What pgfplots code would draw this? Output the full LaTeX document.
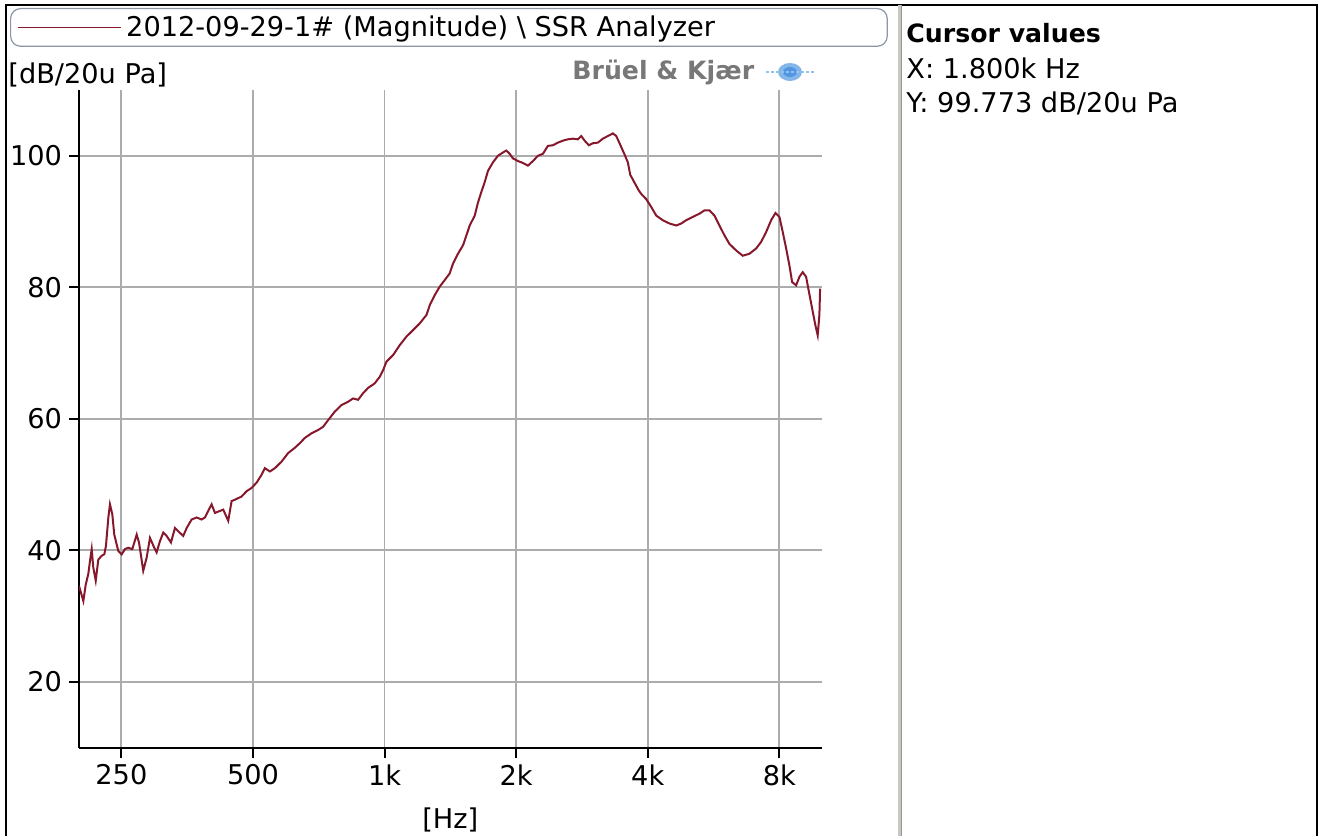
\documentclass[border=0pt]{standalone}
\usepackage{pgfplots}
\pgfplotsset{compat=1.18}
\usepackage{fontspec}
\setmainfont{DejaVu Sans}
\definecolor{curve}{RGB}{135,24,44}
\definecolor{gridgray}{RGB}{172,172,172}
\definecolor{legdraw}{RGB}{140,150,165}
\definecolor{bkgray}{RGB}{120,120,120}
\definecolor{bkblue}{RGB}{80,150,225}
\definecolor{seplight}{RGB}{200,200,195}
\definecolor{sepdark}{RGB}{150,150,150}
\newcommand{\fs}{\fontsize{13.6}{16}\selectfont}
\begin{document}
\begin{tikzpicture}
\path[use as bounding box] (0pt,0pt) rectangle (659.5pt,418pt);
\begin{axis}[
  at={(39.5pt,44.15pt)}, anchor=south west,
  scale only axis, width=371.35pt, height=328.85pt,
  axis lines=left, axis line style={-, line width=1.2pt, black},
  xmode=log, xmin=200, xmax=10000, ymin=10, ymax=110,
  xtick={250,500,1000,2000,4000,8000},
  xticklabels={250,500,1k,2k,4k,8k},
  ytick={20,40,60,80,100},
  xminorticks=false, yminorticks=false,
  grid=major, major grid style={gridgray, line width=0.9pt},
  tick align=outside, major tick length=5pt,
  tick style={black, line width=1pt},
  ticklabel style={font=\fs},
  /pgf/number format/assume math mode=true,
  xlabel={[Hz]},
  every axis x label/.style={at={(axis description cs:0.5,0)}, anchor=center, yshift=-36.15pt, font=\fs},
  ylabel={[dB/20u Pa]},
  every axis y label/.style={at={(axis description cs:0,1)}, anchor=west, inner sep=0pt, xshift=-35.5pt, yshift=7.5pt, font=\fs},
  legend style={at={(axis description cs:0,1)}, anchor=north west, xshift=-34.5pt, yshift=41pt,
    draw=legdraw, rounded corners=5pt, line width=0.6pt, inner xsep=3.5pt, inner ysep=1pt,
    font=\fs, nodes={inner ysep=2.5pt}},
  legend cell align=left,
  legend image code/.code={\draw[#1, line width=0.8pt] (0pt,0pt) -- (51.5pt,0pt);},
]
\addplot[curve, line width=1pt] coordinates {
(200,34.6) (204.6,32.3) (207.2,34.8) (210.0,36.4) (211.9,38.4) (213.8,40.2)
(215.6,37.4) (218.4,35.4) (221.4,38.6) (225.4,39.2) (228.5,39.4) (230.5,40.7)
(233.4,45.0) (235.4,47.0) (238.3,45.5) (240.8,42.4) (243.9,40.9) (246.0,39.9)
(250.4,39.4) (254.8,40.2) (259.2,40.4) (264.8,40.2) (271.0,42.4) (274.3,41.2)
(277.2,39.2) (280.5,36.9) (285.6,38.9) (290.6,41.9) (297.3,40.4) (301.0,39.7)
(306.3,41.4) (311.7,42.7) (317.3,42.2) (324.6,41.2) (331.5,43.4) (337.3,42.9)
(346.3,42.2) (352.6,43.4) (362.0,44.7) (371.6,45.0) (381.5,44.7) (388.2,45.0)
(395.0,46.0) (402.1,47.0) (409.2,45.7) (427.5,46.2) (438.9,44.5) (446.8,47.5)
(454.6,47.7) (471.0,48.2) (483.5,49.0) (496.4,49.5) (509.6,50.3) (523.2,51.5)
(532.4,52.5) (546.6,52.0) (561.2,52.5) (581.3,53.5) (601.8,54.8) (623.4,55.6)
(640.0,56.3) (657.1,57.1) (680.6,57.8) (704.7,58.3) (723.5,58.8) (742.8,59.8)
(769.4,61.1) (797.1,62.1) (825.2,62.6) (847.2,63.1) (869.8,62.9) (893.0,63.9)
(916.8,64.7) (949.7,65.4) (975.0,66.4) (992.1,67.4) (1010,68.7) (1046,69.7)
(1083,71.2) (1122,72.5) (1162,73.5) (1203,74.5) (1247,75.8) (1269,77.3)
(1302,78.8) (1337,80.1) (1373,81.1) (1409,82.1) (1434,83.6) (1472,85.1)
(1512,86.4) (1539,87.9) (1566,89.4) (1608,90.9) (1636,92.9) (1665,94.5)
(1695,96.0) (1724,97.7) (1770,99.0) (1817,100.0) (1866,100.5) (1899,100.8)
(1933,100.3) (1967,99.6) (2019,99.2) (2073,98.9) (2128,98.5) (2185,99.2)
(2243,100.0) (2303,100.3) (2364,101.5) (2427,101.6) (2492,102.0) (2558,102.3)
(2626,102.5) (2696,102.6) (2768,102.5) (2818,103.0) (2868,102.3) (2933,101.6)
(2996,101.9) (3076,102.0) (3158,102.6) (3242,103.0) (3329,103.4) (3389,103.0)
(3448,101.9) (3540,100.2) (3602,99.0) (3648,97.1) (3732,95.9) (3817,94.7)
(3866,94.2) (3969,93.4) (4075,92.2) (4183,90.9) (4331,90.2) (4486,89.7)
(4647,89.4) (4771,89.7) (4898,90.2) (5071,90.7) (5253,91.2) (5393,91.7)
(5537,91.7) (5684,90.9) (5836,89.4) (5991,87.9) (6151,86.6) (6373,85.6)
(6597,84.8) (6834,85.1) (7079,85.9) (7268,86.9) (7463,88.4) (7662,90.2)
(7837,91.3) (8004,90.7) (8145,88.4) (8292,85.9) (8437,83.3) (8557,80.8)
(8740,80.3) (8893,81.6) (9048,82.3) (9211,81.6) (9338,79.5) (9507,76.8)
(9674,74.2) (9791,72.7) (9879,75.8) (9916,79.8)
};
\addlegendentry{\fs\makebox[375pt][l]{2012-09-29-1\# (Magnitude) \textbackslash{} SSR Analyzer}}
\end{axis}
\begin{scope}[shift={(0pt,418pt)}, x=0.5pt, y=-0.5pt]
  \draw[black, line width=1pt] (6,836) -- (6,5) -- (1317,5) -- (1317,836);
  \draw[seplight, line width=1.5pt] (899,5) -- (899,836);
  \draw[sepdark, line width=0.6pt] (901.5,5) -- (901.5,836);
  \node[anchor=west, inner sep=0pt, text=bkgray, font=\fontsize{12.6}{15}\selectfont\bfseries] at (572,72) {Brüel \& Kjær};
  \fill[bkblue!70] (790,72) ellipse (12 and 9);
  \fill[bkblue] (790,72) ellipse (7 and 5);
  \draw[bkblue!60, line width=0.8pt, dash pattern=on 1.5pt off 1pt] (766,72) -- (815,72);
  \node[anchor=west, inner sep=0pt, font=\fontsize{12.6}{15}\selectfont\bfseries] at (906,33) {Cursor values};
  \node[anchor=west, inner sep=0pt, font=\fs] at (906,68) {X: 1.800k Hz};
  \node[anchor=west, inner sep=0pt, font=\fs] at (906,103) {Y: 99.773 dB/20u Pa};
\end{scope}
\end{tikzpicture}
\end{document}
